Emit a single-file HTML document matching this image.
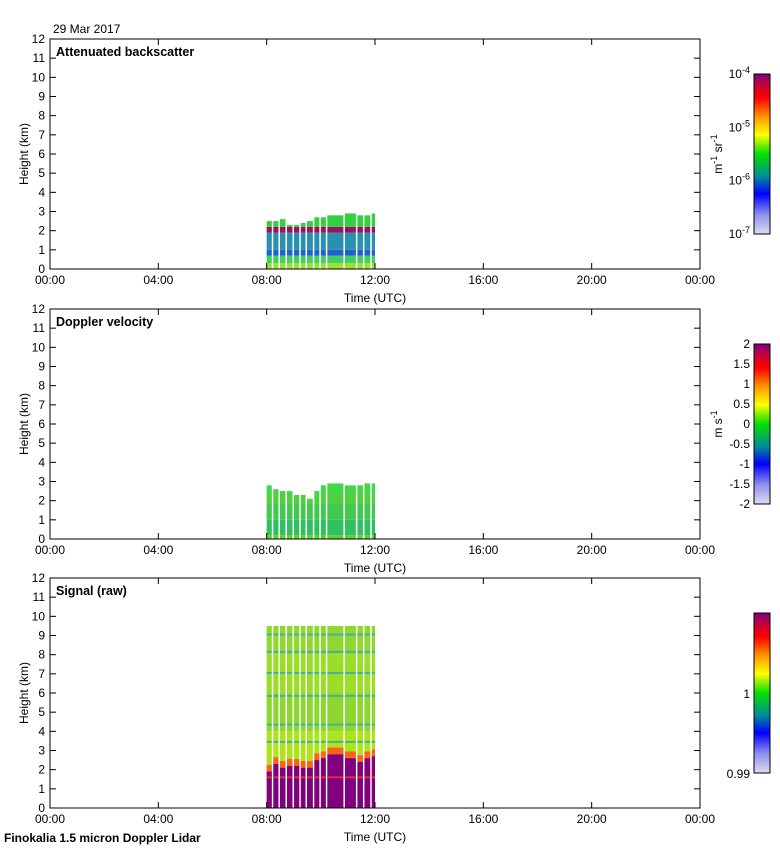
<!DOCTYPE html>
<html><head><meta charset="utf-8">
<style>
body{margin:0;background:#fff;width:780px;height:850px;overflow:hidden}
svg text{font-family:"Liberation Sans",sans-serif;fill:#000}
</style></head>
<body>
<svg id="fig" width="780" height="850" xmlns="http://www.w3.org/2000/svg">
<defs>
<linearGradient id="pal" x1="0" y1="1" x2="0" y2="0">
<stop offset="0" stop-color="#dcdcf0"/><stop offset="0.12" stop-color="#9090f0"/>
<stop offset="0.25" stop-color="#0000ff"/><stop offset="0.36" stop-color="#008c9a"/>
<stop offset="0.5" stop-color="#00e000"/><stop offset="0.62" stop-color="#ffff00"/>
<stop offset="0.73" stop-color="#ff9900"/><stop offset="0.85" stop-color="#ff0000"/>
<stop offset="0.92" stop-color="#d00030"/><stop offset="1" stop-color="#800080"/>
</linearGradient>
</defs>
<text x="53" y="33" font-size="12">29 Mar 2017</text>
<text x="4" y="842" font-size="12" font-weight="bold">Finokalia 1.5 micron Doppler Lidar</text>
</svg>
<script>
// Data
const segStarts = [8.0, 8.245, 8.49, 8.75, 9.01, 9.26, 9.49, 9.76, 10.0, 10.24, 10.89, 11.35, 11.61, 11.88];
const segEnd = 12.0;
const bscTops = [2.5, 2.5, 2.6, 2.3, 2.3, 2.4, 2.5, 2.7, 2.7, 2.8, 2.9, 2.8, 2.8, 2.9];
const velTops = [2.8, 2.6, 2.5, 2.5, 2.3, 2.3, 2.1, 2.5, 2.8, 2.9, 2.8, 2.8, 2.9, 2.9];
const sigPurpleTops = [1.9, 2.3, 2.1, 2.2, 2.2, 2.1, 2.1, 2.5, 2.6, 2.8, 2.6, 2.4, 2.6, 2.7];
const sigTop = 9.5;
// backscatter layers [bottomKm, topKm, color]
const bscLayers = [[0,0.3,"#a0e030"],[0.3,0.7,"#40d060"],[0.7,1.0,"#2060d0"],[1.0,1.9,"#2a90b0"],[1.9,2.2,"#a01060"]];
const bscAboveColor = "#30d040";
const velLayers = [[0,0.2,"#60d030"],[0.2,1.0,"#30c060"],[1.0,1.8,"#40c850"],[1.8,2.4,"#50d040"]];
const sigLayers = [[0,2,"#9adf20"],[2,4,"#aee41a"],[4,6,"#8cd830"],[6,8,"#9ade28"],[8,9.5,"#90d830"]];
const sigLines = [3.4, 4.3, 5.8, 7.0, 8.1, 9.0];
const sigRed = 0.35;
const yTicks = [0,1,2,3,4,5,6,7,8,9,10,11,12];
const xTicks = [0,4,8,12,16,20,24];
const xTickLabels = ["00:00","04:00","08:00","12:00","16:00","20:00","00:00"];
const panelTitles = ["Attenuated backscatter","Doppler velocity","Signal (raw)"];
const panelTops = [39, 309, 578];

const NS = "http://www.w3.org/2000/svg";
const svg = document.getElementById('fig');
const X0 = 50, X1 = 700, PH = 230;
const xs = h => X0 + h / 24 * (X1 - X0);
function mk(tag, attrs, parent){const e=document.createElementNS(NS,tag);for(const k in attrs)e.setAttribute(k,attrs[k]);(parent||svg).appendChild(e);return e;}

panelTops.forEach((top, p) => {
  const ys = km => top + PH - km / 12 * PH;
  const g = mk('g', {});
  
  
  segStarts.forEach((s, i) => {
    const e = i < segStarts.length - 1 ? segStarts[i+1] : segEnd;
    const xa = xs(s), w = xs(e) - xa - (i < segStarts.length - 1 ? 1.5 : 0);
    const rect = (b, t, c) => { const r = mk('rect', {x:xa, y:ys(t), width:w, height:ys(b)-ys(t), fill:c}, g);
        };
    if (p === 0) {
      bscLayers.forEach(L => rect(L[0], Math.min(L[1], bscTops[i]), L[2]));
      if (bscTops[i] > 2.2) rect(2.2, bscTops[i], bscAboveColor);
    } else if (p === 1) {
      velLayers.forEach(L => rect(L[0], Math.min(L[1], velTops[i]), L[2]));
      if (velTops[i] > 2.4) rect(2.4, velTops[i], "#40d848");
    } else {
      sigLayers.forEach(L => rect(L[0], L[1], L[2]));
      sigLines.forEach(l => rect(l, l + 0.1, "#40b0a0"));
      rect(sigPurpleTops[i], sigPurpleTops[i] + sigRed, "#ff6020");
      rect(0, sigPurpleTops[i], "#800080");
      rect(1.55, 1.65, "#e03040");
    }
  });
  mk('rect', {x:X0, y:top, width:X1-X0, height:PH, fill:'none', stroke:'#000', 'stroke-width':1}, g);
  yTicks.forEach(t => {
    const y = ys(t);
    mk('line', {x1:X0, y1:y, x2:X0+6, y2:y, stroke:'#000'}, g);
    mk('line', {x1:X1-6, y1:y, x2:X1, y2:y, stroke:'#000'}, g);
    const tx = mk('text', {x:X0-5, y:y+4, 'font-size':12, 'text-anchor':'end'}, g);
    tx.textContent = t;
    
    
  });
  xTicks.forEach((t, k) => {
    const x = xs(t);
    mk('line', {x1:x, y1:top, x2:x, y2:top+6, stroke:'#000'}, g);
    mk('line', {x1:x, y1:top+PH-6, x2:x, y2:top+PH, stroke:'#000'}, g);
    const tx = mk('text', {x:x, y:top+PH+15, 'font-size':12, 'text-anchor':'middle'}, g);
    tx.textContent = xTickLabels[k];
    
    
  });
  const xt = mk('text', {x:375, y:top+PH+33, 'font-size':12, 'text-anchor':'middle'}, g);
  xt.textContent = 'Time (UTC)';
  
  
  const yt = mk('text', {x:0, y:0, 'font-size':12, 'text-anchor':'middle', transform:`translate(28,${top+PH/2}) rotate(-90)`}, g);
  yt.textContent = 'Height (km)';
  
  
  const tt = mk('text', {x:56, y:top+17, 'font-size':12.5, 'font-weight':'bold'}, g);
  tt.textContent = panelTitles[p];
  
  
  const cb = mk('rect', {x:754, y:top+35, width:16, height:160, fill:'url(#pal)', stroke:'#000'}, g);
  
  
});

function lab(x, y, html, name){const t=mk('text',{x:x,y:y,'font-size':12,'text-anchor':'end'});t.innerHTML=html;
    return t;}
const bscExp = ["-4","-5","-6","-7"];
bscExp.forEach((e, i) => lab(750, 78 + i*53.3, `10<tspan font-size="9" dy="-5">${e}</tspan>`, 'colorbar-tick-label'));
const velLabels = ["2","1.5","1","0.5","0","-0.5","-1","-1.5","-2"];
velLabels.forEach((v, i) => lab(750, 348 + i*20, v, 'colorbar-tick-label'));
lab(750, 698, "1", 'colorbar-tick-label');
lab(750, 778, "0.99", 'colorbar-tick-label');
const u1 = mk('text', {x:0, y:0, 'font-size':12, 'text-anchor':'middle', transform:'translate(722,154) rotate(-90)'});
u1.innerHTML = 'm<tspan font-size="9" dy="-5">-1</tspan><tspan dy="5"> sr</tspan><tspan font-size="9" dy="-5">-1</tspan>';


const u2 = mk('text', {x:0, y:0, 'font-size':12, 'text-anchor':'middle', transform:'translate(722,424) rotate(-90)'});
u2.innerHTML = 'm s<tspan font-size="9" dy="-5">-1</tspan>';


</script>
</body></html>
